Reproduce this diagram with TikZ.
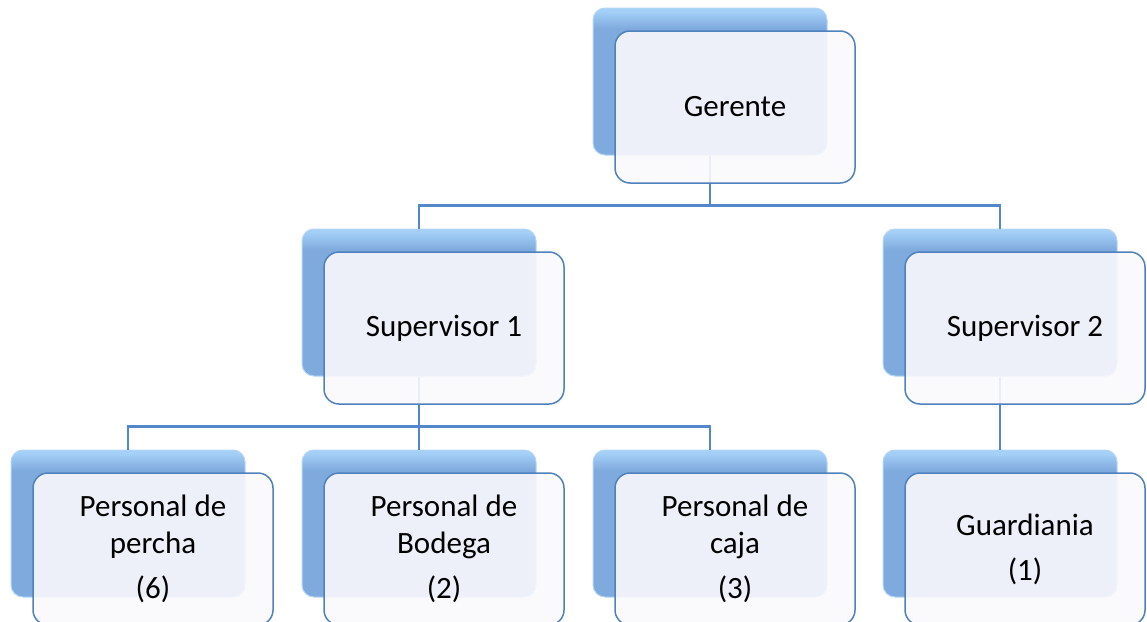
\documentclass[tikz,border=0pt]{standalone}
\usepackage{fontspec}
\setmainfont{Carlito}
\usetikzlibrary{positioning}
\definecolor{backtop}{HTML}{A4D0F8}
\definecolor{backbot}{HTML}{7FAADD}
\definecolor{glow}{HTML}{B4D6F4}
\definecolor{frontbg}{HTML}{F9F8FC}
\definecolor{edge}{HTML}{4F81BD}
\definecolor{linkblue}{HTML}{5288C9}
\pgfdeclareverticalshading{backshade}{100bp}{color(0bp)=(backbot); color(25bp)=(backbot);
  color(68bp)=(backbot); color(74bp)=(backtop); color(100bp)=(backtop)}

\begin{document}
\begin{tikzpicture}[x=1pt, y=1pt, font=\fontsize{31}{37}\selectfont,
  back/.style={rounded corners=12pt, draw=glow, line width=1pt, shading=backshade,
    minimum width=234pt, minimum height=147pt, inner sep=0pt},
  front/.style={rounded corners=15pt, draw=edge, line width=1.5pt, fill=frontbg,
    fill opacity=0.9, text opacity=1, minimum width=240pt, minimum height=152pt,
    align=center, inner sep=0pt},
  link/.style={linkblue, line width=2.5pt}]
  \useasboundingbox (0,0) rectangle (1147,-621);

  % back layer
  \node[back] (gerB) at (710,-81.5) {};
  \node[back, below=73pt of gerB, xshift=-291pt] (sup1B) {};
  \node[back, below=73pt of gerB, xshift=290pt] (sup2B) {};
  \node[back, below=73pt of sup1B] (bodB) {};
  \node[back, left=56pt of bodB] (perB) {};
  \node[back, right=56pt of bodB] (cajB) {};
  \node[back, below=73pt of sup2B] (guaB) {};

  % connectors
  \draw[link] (gerB.south) -- ++(0,-50) -| (sup1B.north);
  \draw[link] (gerB.south) -- ++(0,-50) -| (sup2B.north);
  \draw[link] (sup1B.south) -- ++(0,-50) -| (perB.north);
  \draw[link] (sup1B.south) -- (bodB.north);
  \draw[link] (sup1B.south) -- ++(0,-50) -| (cajB.north);
  \draw[link] (sup2B.south) -- (guaB.north);

  % front layer
  \node[front] (ger) at ([shift={(25pt,-25.5pt)}]gerB.center) {Gerente};
  \node[front] (sup1) at ([shift={(25pt,-25.5pt)}]sup1B.center) {Supervisor 1};
  \node[front] (sup2) at ([shift={(25pt,-25.5pt)}]sup2B.center) {Supervisor 2};
  \node[front] (per) at ([shift={(25pt,-25.5pt)}]perB.center)
    {Personal de\\percha\\[8pt](6)};
  \node[front] (bod) at ([shift={(25pt,-25.5pt)}]bodB.center)
    {Personal de\\Bodega\\[8pt](2)};
  \node[front] (caj) at ([shift={(25pt,-25.5pt)}]cajB.center)
    {Personal de\\caja\\[8pt](3)};
  \node[front] (gua) at ([shift={(25pt,-25.5pt)}]guaB.center)
    {Guardiania\\[8pt](1)};
\end{tikzpicture}
\end{document}
